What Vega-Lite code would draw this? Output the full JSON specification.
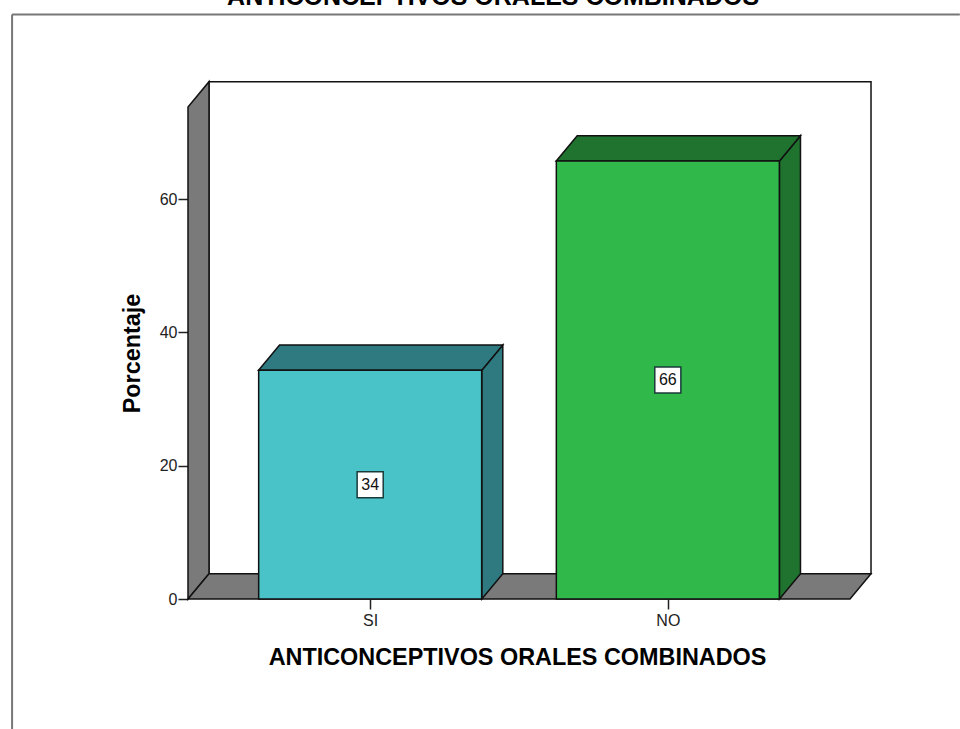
{
"$schema":"https://vega.github.io/schema/vega-lite/v6.json",
"width":662,"height":492,
"autosize":{"type":"none"},
"padding":{"left":188,"top":107,"right":110,"bottom":130},
"background":"white",
"config":{"view":{"stroke":null},"font":"Liberation Sans","axis":{"labelFont":"Liberation Sans","titleFont":"Liberation Sans"}},
"datasets":{
"barras":[
{"categoria":"SI","cara":"SI","pos":1,"porcentaje":34.3,"medio":17.15,"etiqueta":"34"},
{"categoria":"NO","cara":"NO","pos":2,"porcentaje":65.7,"medio":32.85,"etiqueta":"66"}],
"caras":[
{"cara":"pared","x":0.4586,"y":3.8,"y2":77.6},{"cara":"pared","x":2.6826,"y":3.8,"y2":77.6},
{"cara":"muro","x":0.388,"y":0,"y2":73.8},{"cara":"muro","x":0.4586,"y":3.8,"y2":77.6},
{"cara":"suelo","x":0.388,"y":0,"y2":0},{"cara":"suelo","x":0.4586,"y":0,"y2":3.8},{"cara":"suelo","x":2.612,"y":0,"y2":3.8},{"cara":"suelo","x":2.6826,"y":3.8,"y2":3.8},
{"cara":"SI lado","x":1.375,"y":0,"y2":34.3},{"cara":"SI lado","x":1.4456,"y":3.8,"y2":38.1},
{"cara":"SI arriba","x":0.625,"y":34.3,"y2":34.3},{"cara":"SI arriba","x":0.6956,"y":34.3,"y2":38.1},{"cara":"SI arriba","x":1.375,"y":34.3,"y2":38.1},{"cara":"SI arriba","x":1.4456,"y":38.1,"y2":38.1},
{"cara":"NO lado","x":2.375,"y":0,"y2":65.7},{"cara":"NO lado","x":2.4456,"y":3.8,"y2":69.5},
{"cara":"NO arriba","x":1.625,"y":65.7,"y2":65.7},{"cara":"NO arriba","x":1.6956,"y":65.7,"y2":69.5},{"cara":"NO arriba","x":2.375,"y":65.7,"y2":69.5},{"cara":"NO arriba","x":2.4456,"y":69.5,"y2":69.5}],
"marco":[
{"x":-0.203,"x2":2.981,"y":87.67,"y2":87.67},
{"x":-0.203,"x2":-0.203,"y":87.67,"y2":-19.5}],
"titulo":[{"x":1.413,"y":89.1,"texto":"ANTICONCEPTIVOS ORALES COMBINADOS"}]
},
"layer":[
{"data":{"name":"marco"},"mark":{"type":"rule","color":"#777777","strokeWidth":2},
"encoding":{"x":{"field":"x","type":"quantitative"},"x2":{"field":"x2"},"y":{"field":"y","type":"quantitative"},"y2":{"field":"y2"}}},
{"data":{"name":"titulo"},"mark":{"type":"text","fontWeight":"bold","fontSize":25,"baseline":"alphabetic","align":"center","color":"#000000"},
"encoding":{"x":{"field":"x","type":"quantitative"},"y":{"field":"y","type":"quantitative"},"text":{"field":"texto"}}},
{"data":{"name":"caras"},"mark":{"type":"area","orient":"vertical","stroke":"#111111","strokeWidth":1.5,"opacity":1,"interpolate":"linear"},
"encoding":{
"x":{"field":"x","type":"quantitative","scale":{"domain":[0.388,2.612],"nice":false,"zero":false,"padding":0},
"axis":{"values":[1,2],"labelExpr":"datum.value==1?'SI':'NO'","title":"ANTICONCEPTIVOS ORALES COMBINADOS","titleFontSize":23.4,"titleFontWeight":"bold","titleColor":"#000000","titlePadding":18,"titleX":329,"labelFontSize":16,"labelColor":"#222222","labelPadding":3,"tickSize":10,"tickColor":"#222222","tickWidth":1.5,"grid":false,"domain":false}},
"y":{"field":"y","type":"quantitative","stack":null,"scale":{"domain":[0,73.8],"nice":false,"zero":false},
"axis":{"values":[0,20,40,60],"title":"Porcentaje","titleFontSize":23.4,"titleFontWeight":"bold","titleColor":"#000000","titlePadding":15,"labelFontSize":16,"labelColor":"#222222","labelPadding":1,"tickSize":10,"tickColor":"#222222","tickWidth":1.5,"grid":false,"domain":false}},
"y2":{"field":"y2"},
"color":{"field":"cara","type":"nominal","legend":null,"scale":{"domain":["pared","muro","suelo","SI lado","SI arriba","NO lado","NO arriba","SI","NO"],"range":["#FFFFFF","#7A7A7A","#7A7A7A","#2E7A80","#2E7A80","#1F732F","#1F732F","#49C3C8","#31B84B"]}}
}},
{"data":{"name":"barras"},"mark":{"type":"bar","width":223,"stroke":"#111111","strokeWidth":1.5},
"encoding":{
"x":{"field":"pos","type":"quantitative"},
"y":{"field":"porcentaje","type":"quantitative","stack":null},
"color":{"field":"cara","type":"nominal","legend":null}
}},
{"data":{"name":"barras"},"mark":{"type":"point","shape":"square","filled":true,"fill":"#FFFFFF","size":680,"stroke":"#1A3A3A","strokeWidth":1.5,"opacity":1},
"encoding":{"x":{"field":"pos","type":"quantitative"},"y":{"field":"medio","type":"quantitative"}}},
{"data":{"name":"barras"},"mark":{"type":"text","fontSize":16,"color":"#111111","align":"center","baseline":"middle"},
"encoding":{"x":{"field":"pos","type":"quantitative"},"y":{"field":"medio","type":"quantitative"},"text":{"field":"etiqueta"}}}
]
}
